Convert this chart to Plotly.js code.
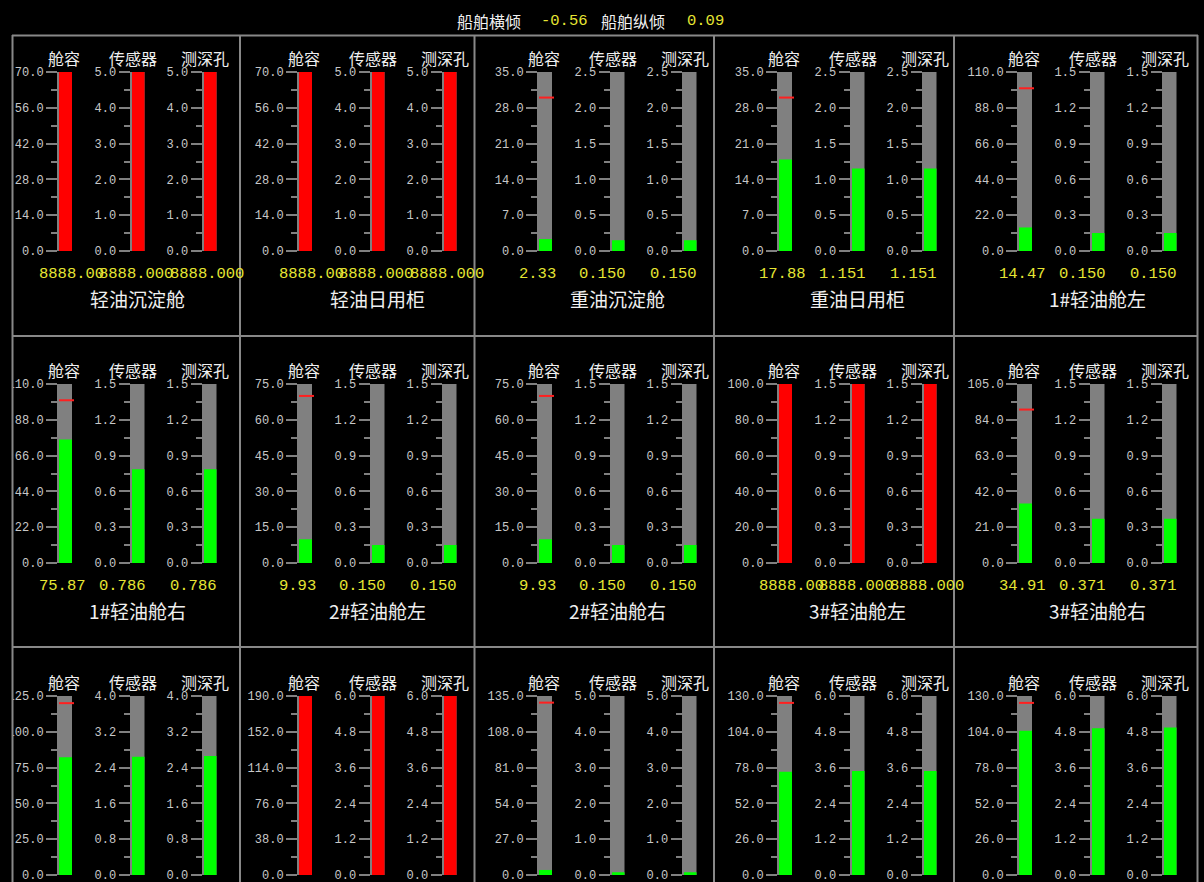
<!DOCTYPE html>
<html><head><meta charset="utf-8">
<script src="https://cdn.plot.ly/plotly-3.0.1.min.js"></script>
<style>html,body{margin:0;padding:0;background:#000;}#chart{width:1204px;height:882px;}</style>
</head><body><div id="chart"></div>
<script>
// ---- data ----
const tankNames = ['轻油沉淀舱','轻油日用柜','重油沉淀舱','重油日用柜','1#轻油舱左',
                   '1#轻油舱右','2#轻油舱左','2#轻油舱右','3#轻油舱左','3#轻油舱右',
                   null,null,null,null,null];
const gaugeLabels = ['舱容','传感器','测深孔'];
const capacityMax = [70,70,35,35,110, 110,75,75,100,105, 125,190,135,130,130];
const sensorMax   = [5,5,2.5,2.5,1.5, 1.5,1.5,1.5,1.5,1.5, 4,6,5,6,6];
const holeMax     = [5,5,2.5,2.5,1.5, 1.5,1.5,1.5,1.5,1.5, 4,6,5,6,6];
const capacityValue = [8888,8888,2.33,17.88,14.47, 75.87,9.93,9.93,8888,34.91, 82.2,8888,3.8,75.0,104.8];
const sensorValue   = [8888,8888,0.150,1.151,0.150, 0.786,0.150,0.150,8888,0.371, 2.64,8888,0.08,3.49,4.92];
const holeValue     = [8888,8888,0.150,1.151,0.150, 0.786,0.150,0.150,8888,0.371, 2.66,8888,0.08,3.49,4.94];
const capacityAlarm = [null,null,30,30,100, 100,70,70,null,90, 120,null,130,125,125];
const heelLabel = '船舶横倾', heelValue = -0.56;
const trimLabel = '船舶纵倾', trimValue = 0.09;

// ---- style / layout constants ----
const W = 1204, H = 882;
const GRAY = '#808080', GREEN = '#00ff00', RED = '#ff0000', YELLOW = '#e6e633';
const TICKC = '#c8c8c8';
const CJK = '"Noto Sans CJK SC", sans-serif';
const MONO = '"Liberation Mono", "DejaVu Sans Mono", monospace';
const blockW = 240;
const barLeft = [59, 131.5, 203.5], barW = 13, ext = 3;
const rowTop = [72, 384, 696], barH = 179;
const headerX = [64, 132.5, 204.7];
const valueX = [36.7, 96.7, 168.3];
const nameX = 137.5;

const traces = [], shapes = [], annotations = [];
const layout = {
  width: W, height: H, margin: {l:0, r:0, t:0, b:0},
  paper_bgcolor: '#000', plot_bgcolor: 'rgba(0,0,0,0)',
  barmode: 'overlay', showlegend: false,
};
const fx = p => p / W, fy = p => 1 - p / H;

let k = 0;
for (let i = 0; i < 15; i++) {
  const col = i % 5, row = Math.floor(i / 5);
  const bx = col * blockW, top = rowTop[row];
  const maxes = [capacityMax[i], sensorMax[i], holeMax[i]];
  const vals = [capacityValue[i], sensorValue[i], holeValue[i]];
  for (let g = 0; g < 3; g++) {
    k++;
    const sfx = k === 1 ? '' : String(k);
    const xa = 'x' + sfx, ya = 'y' + sfx;
    const left = bx + barLeft[g];
    const m = maxes[g];
    const tv = [], tt = [], mv = [];
    for (let t = 0; t <= 5; t++) { const v = +(m * t / 5).toFixed(6); tv.push(v); tt.push(v.toFixed(1)); }
    for (let t = 0; t < 5; t++) mv.push(+(m * (t + 0.5) / 5).toFixed(6));
    layout['xaxis' + sfx] = {domain: [fx(left), fx(left + barW + ext)], range: [0, barW + ext],
      visible: false, fixedrange: true, anchor: ya};
    layout['yaxis' + sfx] = {domain: [fy(top + barH), fy(top)], range: [0, m], anchor: xa,
      showline: true, linecolor: GRAY, linewidth: 2, ticks: 'outside', ticklen: 11, tickwidth: 2,
      tickcolor: GRAY, tickmode: 'array', tickvals: tv, ticktext: tt,
      tickfont: {family: MONO, size: 12, color: TICKC}, ticklabeloverflow: 'allow',
      showgrid: false, zeroline: false, fixedrange: true,
      minor: {tickmode: 'array', tickvals: mv, ticks: 'outside', ticklen: 6, tickwidth: 2,
              tickcolor: GRAY, showgrid: false}};
    traces.push({type: 'bar', x: [barW / 2], y: [m], width: [barW], xaxis: xa, yaxis: ya,
      marker: {color: GRAY, line: {width: 0}}, hoverinfo: 'skip'});
    const alarm = vals[g] > m;
    traces.push({type: 'bar', x: [barW / 2], y: [alarm ? m : vals[g]], width: [barW], xaxis: xa, yaxis: ya,
      marker: {color: alarm ? RED : GREEN, line: {width: 0}}, hoverinfo: 'skip'});
    if (g === 0 && capacityAlarm[i] != null) {
      shapes.push({type: 'line', xref: xa, yref: ya, x0: 0, x1: barW + 2,
        y0: capacityAlarm[i], y1: capacityAlarm[i], line: {color: '#ff2020', width: 2}, layer: 'above'});
    }
    // header label
    annotations.push({text: gaugeLabels[g], x: fx(bx + headerX[g]), y: fy(top - 14.5),
      xref: 'paper', yref: 'paper', xanchor: 'center', yanchor: 'middle', showarrow: false,
      font: {family: CJK, size: 16, color: '#f0f0f0'}});
    // value label
    if (tankNames[i]) {
      const txt = g === 0 ? vals[g].toFixed(2) : vals[g].toFixed(3);
      annotations.push({text: txt, x: fx(bx + valueX[g]), y: fy(top + 202), xref: 'paper', yref: 'paper',
        xanchor: 'left', yanchor: 'middle', showarrow: false,
        font: {family: MONO, size: 15.5, color: YELLOW}});
    }
  }
  if (tankNames[i]) {
    annotations.push({text: tankNames[i], x: fx(bx + nameX), y: fy(top + 226), xref: 'paper', yref: 'paper',
      xanchor: 'center', yanchor: 'middle', showarrow: false,
      font: {family: CJK, size: 19, color: '#f0f0f0'}});
  }
}

// title row
annotations.push({text: heelLabel, x: fx(489), y: fy(21), xref: 'paper', yref: 'paper', xanchor: 'center',
  yanchor: 'middle', showarrow: false, font: {family: CJK, size: 16, color: '#f0f0f0'}});
annotations.push({text: heelValue.toFixed(2), x: fx(539), y: fy(21), xref: 'paper', yref: 'paper', xanchor: 'left',
  yanchor: 'middle', showarrow: false, font: {family: MONO, size: 15.5, color: YELLOW}});
annotations.push({text: trimLabel, x: fx(633), y: fy(21), xref: 'paper', yref: 'paper', xanchor: 'center',
  yanchor: 'middle', showarrow: false, font: {family: CJK, size: 16, color: '#f0f0f0'}});
annotations.push({text: trimValue.toFixed(2), x: fx(685), y: fy(21), xref: 'paper', yref: 'paper', xanchor: 'left',
  yanchor: 'middle', showarrow: false, font: {family: MONO, size: 15.5, color: YELLOW}});

// frame: black mask at left edge, then grid lines
shapes.push({type: 'rect', xref: 'paper', yref: 'paper', x0: 0, x1: fx(12), y0: 0, y1: 1,
  fillcolor: '#000', line: {width: 0}, layer: 'above'});
const FRAME = '#888888';
const hLines = [35.5, 336, 647];
const vLines = [12.5, 240, 474.5, 714, 954, 1197.5];
hLines.forEach(y => shapes.push({type: 'line', xref: 'paper', yref: 'paper', x0: fx(12), x1: fx(1198),
  y0: fy(y), y1: fy(y), line: {color: FRAME, width: 2}, layer: 'above'}));
vLines.forEach(x => shapes.push({type: 'line', xref: 'paper', yref: 'paper', x0: fx(x), x1: fx(x),
  y0: fy(35), y1: 0, line: {color: FRAME, width: 2}, layer: 'above'}));

layout.shapes = shapes;
layout.annotations = annotations;
Plotly.newPlot('chart', traces, layout, {staticPlot: true, displayModeBar: false});
</script>
</body></html>
